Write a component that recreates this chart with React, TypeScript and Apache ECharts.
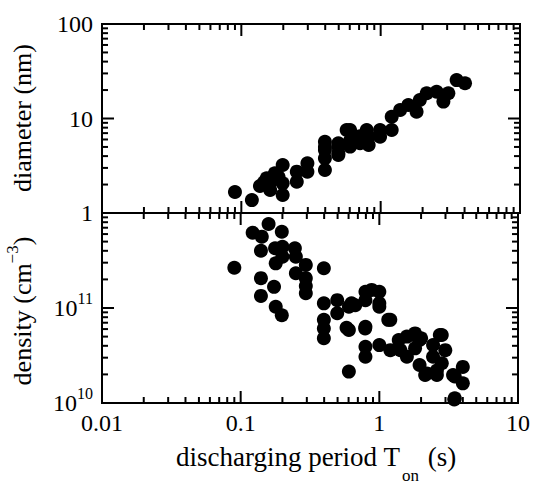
import React, { useEffect, useRef } from "react";
import * as echarts from "echarts";

// Top panel: particle diameter (nm) vs discharging period (s)
const diameterT = [
  0.09, 0.119, 0.136, 0.145, 0.152, 0.161, 0.174, 0.165, 0.198, 0.198, 0.198, 0.185,
  0.25, 0.25, 0.298, 0.298, 0.398, 0.398, 0.398, 0.398, 0.398, 0.497, 0.497, 0.497,
  0.497, 0.57, 0.603, 0.603, 0.603, 0.711, 0.711, 0.794, 0.82, 0.82, 0.99, 0.99, 1.2,
  1.2, 1.38, 1.58, 1.81, 1.91, 2.14, 2.52, 2.82, 3.06, 3.51, 4.03,
];
const diameterNm = [
  1.67, 1.37, 1.93, 2.1, 2.33, 1.75, 2.63, 2.2, 3.22, 1.55, 2.06, 2.4,
  2.14, 2.74, 3.36, 2.74, 5.68, 4.64, 3.79, 2.85, 5.0, 5.47, 4.28, 5.04,
  4.11, 7.55, 7.55, 5.04, 5.8, 5.47, 6.5, 7.55, 5.24, 6.4, 7.55, 6.42, 7.55,
  10.45, 12.3, 13.9, 11.8, 15.7, 18.5, 19.2, 15.1, 18.5, 25.5, 23.6,
];

// Bottom panel: particle density (cm^-3) vs discharging period (s)
const densityT = [
  0.09, 0.122, 0.142, 0.159, 0.198, 0.14, 0.177, 0.2, 0.246, 0.25, 0.179, 0.2,
  0.14, 0.174, 0.14, 0.179, 0.198, 0.25, 0.295, 0.295, 0.295, 0.295, 0.398, 0.398,
  0.398, 0.398, 0.398, 0.497, 0.497, 0.603, 0.603, 0.603, 0.67, 0.794, 0.794, 0.794,
  0.794, 0.794, 1.0, 1.0, 1.0, 1.2, 1.2, 1.38, 1.42, 1.58, 1.58, 1.81, 1.81, 2.0,
  1.95, 2.14, 2.44, 2.44, 2.6, 2.82, 2.99, 2.82, 3.4, 3.47, 4.0, 4.0,
  0.63, 0.88, 1.0, 1.16, 0.58, 0.79, 1.77, 1.95, 2.2, 2.6, 2.73, 3.5, 3.5,
];
const densityVal = [
  2.65e11, 6.2e11, 5.64e11, 7.66e11, 6.35e11, 4.0e11, 4.25e11, 4.4e11, 4.25e11, 3.47e11, 2.95e11, 3.47e11,
  2.06e11, 1.67e11, 1.34e11, 1.03e11, 8.4e10, 2.32e11, 2.84e11, 2.06e11, 1.43e11, 1.7e11, 2.62e11, 1.12e11,
  7.5e10, 6.1e10, 4.8e10, 1.21e11, 8.8e10, 1.03e11, 5.87e10, 2.14e10, 1.07e11, 1.48e11, 1.21e11, 6.35e10,
  3.9e10, 3.07e10, 1.48e11, 1.03e11, 4.07e10, 7.5e10, 3.6e10, 4.6e10, 3.6e10, 5.0e10, 3.07e10, 5.4e10, 3.76e10, 4.8e10,
  2.51e10, 1.97e10, 4.07e10, 3.07e10, 1.97e10, 5.2e10, 3.6e10, 2.62e10, 1.97e10, 1.09e10, 2.4e10, 1.61e10,
  1.12e11, 1.55e11, 1.12e11, 7.5e10, 6.2e10, 6.1e10, 5.2e10, 4.6e10, 2.05e10, 2.2e10, 5.2e10, 1.9e10, 1.12e10,
];

const xTickLabels = ["0.01", "0.1", "1", "10"];
const diameterTickLabels = ["1", "10", "100"];
const densityTickLabels = ["10{sup|10}", "10{sup|11}", ""];

const FONT = "Liberation Serif";

function makeTicks(xMin: number, xMax: number, yMin: number, yMax: number) {
  return (params: any, api: any) => {
    if (params.dataIndex !== 0) return null;
    const cs = params.coordSys;
    const children: any[] = [];
    const L = 12;
    const l = 6;
    const st = { stroke: "#000", lineWidth: 2 };
    const top = cs.y;
    const bottom = cs.y + cs.height;
    const left = cs.x;
    const right = cs.x + cs.width;
    const ex0 = Math.round(Math.log10(xMin));
    const ex1 = Math.round(Math.log10(xMax));
    for (let e = ex0; e < ex1; e++) {
      for (let k = 1; k <= 9; k++) {
        if (k === 1 && e === ex0) continue;
        const v = k * Math.pow(10, e);
        const px = api.coord([v, yMin])[0];
        const len = k === 1 ? L : l;
        children.push({ type: "line", shape: { x1: px, y1: bottom, x2: px, y2: bottom - len }, style: st });
        children.push({ type: "line", shape: { x1: px, y1: top, x2: px, y2: top + len }, style: st });
      }
    }
    const ey0 = Math.round(Math.log10(yMin));
    const ey1 = Math.round(Math.log10(yMax));
    for (let e = ey0; e < ey1; e++) {
      for (let k = 1; k <= 9; k++) {
        if (k === 1 && e === ey0) continue;
        const v = k * Math.pow(10, e);
        const py = api.coord([xMin, v])[1];
        const len = k === 1 ? L : l;
        children.push({ type: "line", shape: { x1: left, y1: py, x2: left + len, y2: py }, style: st });
        children.push({ type: "line", shape: { x1: right, y1: py, x2: right - len, y2: py }, style: st });
      }
    }
    return { type: "group", children };
  };
}

export default function App() {
  const ref = useRef<HTMLDivElement>(null);
  useEffect(() => {
    if (!ref.current) return;
    const chart = echarts.init(ref.current, undefined, { renderer: "svg" });
    const topData = diameterT.map((t, i) => [t, diameterNm[i]]);
    const botData = densityT.map((t, i) => [t, densityVal[i]]);
    const labelStyle = { color: "#000", fontFamily: FONT, fontSize: 24 };
    const xLabelFmt = (v: number) => {
      const idx = Math.round(Math.log10(v)) + 2;
      return xTickLabels[idx] ?? "";
    };
    chart.setOption({
      animation: false,
      backgroundColor: "#fff",
      textStyle: { fontFamily: FONT },
      grid: [
        { left: 102, top: 24, width: 418, height: 189, show: true, borderColor: "#000", borderWidth: 2 },
        { left: 102, top: 213, width: 418, height: 190, show: true, borderColor: "#000", borderWidth: 2 },
      ],
      xAxis: [
        {
          type: "log", logBase: 10, min: 0.01, max: 10, gridIndex: 0,
          axisLine: { show: false }, axisTick: { show: false }, splitLine: { show: false },
          axisLabel: { show: false },
        },
        {
          type: "log", logBase: 10, min: 0.01, max: 10, gridIndex: 1,
          axisLine: { show: false }, axisTick: { show: false }, splitLine: { show: false },
          axisLabel: { ...labelStyle, margin: 8, formatter: xLabelFmt },
        },
      ],
      yAxis: [
        {
          type: "log", logBase: 10, min: 1, max: 100, gridIndex: 0,
          axisLine: { show: false }, axisTick: { show: false }, splitLine: { show: false },
          axisLabel: {
            ...labelStyle, margin: 9,
            formatter: (v: number) => diameterTickLabels[Math.round(Math.log10(v))] ?? "",
          },
        },
        {
          type: "log", logBase: 10, min: 1e10, max: 1e12, gridIndex: 1,
          axisLine: { show: false }, axisTick: { show: false }, splitLine: { show: false },
          axisLabel: {
            ...labelStyle, margin: 9,
            formatter: (v: number) => densityTickLabels[Math.round(Math.log10(v)) - 10] ?? "",
            rich: {
              sup: { fontFamily: FONT, fontSize: 16, color: "#000", padding: [0, 0, 20, 0] },
            },
          },
        },
      ],
      series: [
        {
          type: "scatter", xAxisIndex: 0, yAxisIndex: 0, data: topData,
          symbolSize: 14, itemStyle: { color: "#000", opacity: 1 },
        },
        {
          type: "scatter", xAxisIndex: 1, yAxisIndex: 1, data: botData,
          symbolSize: 14, itemStyle: { color: "#000", opacity: 1 },
        },
        {
          type: "custom", xAxisIndex: 0, yAxisIndex: 0, data: [[1, 10]], clip: false, silent: true,
          renderItem: makeTicks(0.01, 10, 1, 100),
        },
        {
          type: "custom", xAxisIndex: 1, yAxisIndex: 1, data: [[1, 1e11]], clip: false, silent: true,
          renderItem: makeTicks(0.01, 10, 1e10, 1e12),
        },
      ],
      graphic: [
        {
          type: "text", x: 22, y: 118, rotation: Math.PI / 2,
          style: {
            text: "diameter (nm)", fill: "#000", fontFamily: FONT, fontSize: 26,
            textAlign: "center", textVerticalAlign: "middle",
          },
        },
        {
          type: "text", x: 22, y: 311, rotation: Math.PI / 2,
          style: {
            text: "density (cm{sup|−3})", fill: "#000", fontFamily: FONT, fontSize: 26,
            textAlign: "center", textVerticalAlign: "middle",
            rich: { sup: { fontFamily: FONT, fontSize: 17, fill: "#000", padding: [0, 0, 20, 0] } },
          },
        },
        {
          type: "text", x: 316, y: 457,
          style: {
            text: "discharging period T{sub|on} (s)", fill: "#000", fontFamily: FONT, fontSize: 27,
            textAlign: "center", textVerticalAlign: "middle",
            rich: { sub: { fontFamily: FONT, fontSize: 17, fill: "#000", padding: [36, 2, 0, 2] } },
          },
        },
      ],
    });
    return () => chart.dispose();
  }, []);
  return (
    <div
      ref={ref}
      style={{ position: "absolute", left: 0, top: 0, width: 533, height: 484 }}
    />
  );
}
